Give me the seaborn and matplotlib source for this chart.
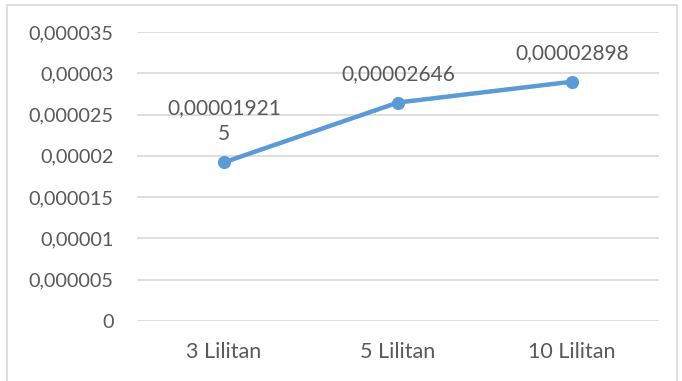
import matplotlib
matplotlib.use("Agg")
import matplotlib.pyplot as plt
import matplotlib.ticker as mticker
from matplotlib.patches import Rectangle
import seaborn as sns
import pandas as pd

categories = ["3 Lilitan", "5 Lilitan", "10 Lilitan"]
values = [0.000019215, 0.00002646, 0.00002898]
y_ticks = [0, 0.000005, 0.00001, 0.000015, 0.00002, 0.000025, 0.00003, 0.000035]

df = pd.DataFrame({"lilitan": categories, "nilai": values})

sns.set_theme(style="white")
plt.rcParams["font.family"] = ["Lato", "DejaVu Sans"]

text_color = "#595959"
grid_color = "#D9D9D9"
line_color = "#5B9BD5"


def fmt_comma(v, pos=None):
    s = f"{v:.9f}".rstrip("0").rstrip(".")
    return s.replace(".", ",")


fig = plt.figure(figsize=(6.82, 3.81), dpi=100)
ax = fig.add_axes([137 / 682, 1 - 321 / 381, 522 / 682, 289 / 381])

sns.lineplot(data=df, x="lilitan", y="nilai", ax=ax, sort=False,
             color=line_color, linewidth=3.2, marker="o", markersize=9.5,
             markeredgewidth=0, zorder=3)

ax.set_xlim(-0.5, len(categories) - 0.5)
ax.set_ylim(0, 0.000035)
ax.set_yticks(y_ticks)
ax.yaxis.set_major_formatter(mticker.FuncFormatter(fmt_comma))
ax.grid(axis="y", color=grid_color, linewidth=1.2)
ax.grid(axis="x", visible=False)
for sp in ax.spines.values():
    sp.set_visible(False)
ax.tick_params(axis="both", length=0, colors=text_color)
ax.tick_params(axis="y", pad=17, labelsize=14.3)
ax.tick_params(axis="x", pad=15, labelsize=15.5)
ax.set_xlabel("")
ax.set_ylabel("")

# value labels above each point, wrapped at ten characters
for i, v in enumerate(values):
    s = fmt_comma(v)
    if len(s) > 10:
        s = s[:10] + "\n" + s[10:]
    ax.annotate(s, (i, v), xytext=(0, 16), textcoords="offset points",
                ha="center", va="baseline", fontsize=15, color=text_color,
                linespacing=1.4)

# outer chart frame
fig.patches.append(Rectangle((6.5 / 682, -0.05), 670 / 682, 1 - 4.5 / 381 + 0.05,
                             transform=fig.transFigure, fill=False,
                             edgecolor="#D9D9D9", linewidth=1.2))

fig.savefig("out.png", dpi=100)
